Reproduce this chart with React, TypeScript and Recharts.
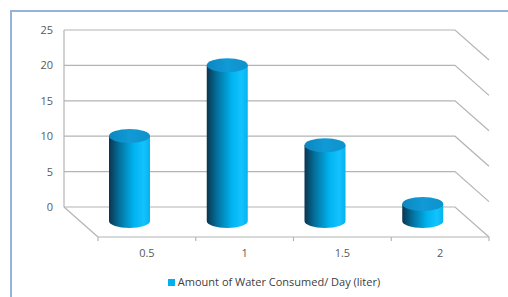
import { BarChart, Bar, XAxis, YAxis, CartesianGrid, Legend } from "recharts";

const CATEGORIES = ["0.5", "1", "1.5", "2"];
const WATER = [12, 22, 10.7, 2.4];
const Y_TICKS = [0, 5, 10, 15, 20, 25];
const SERIES_NAME = "Amount of Water Consumed/ Day (liter)";

const data = CATEGORIES.map((cat, i) => ({ cat, water: WATER[i] }));

// fake 3D: floor depth offset and bar mid-depth offset
const DEPTH_X = 34;
const DEPTH_Y = 30;
const BAR_DX = 17;
const BAR_DY = 14;
const GRID = "#b4b4b4";
const LABEL = "#595959";
const FONT = '"Open Sans", sans-serif';

function Cylinder(props: any) {
  const { x, y, width, height } = props;
  if (width == null || height == null) return null;
  const left = x + BAR_DX;
  const top = y + BAR_DY;
  const bottom = y + height + BAR_DY;
  const rx = width / 2;
  const ry = 7;
  return (
    <g>
      <path
        d={`M${left},${top} L${left},${bottom} A${rx},${ry} 0 0 0 ${left + width},${bottom} L${left + width},${top} Z`}
        fill="url(#cyl-body)"
      />
      <ellipse cx={left + rx} cy={top} rx={rx} ry={ry} fill="url(#cyl-top)" />
    </g>
  );
}

function gridLine(p: any) {
  const { x1, y1, x2, y2 } = p;
  return (
    <path
      key={p.key}
      d={`M${x1},${y1} L${x2},${y2} L${x2 + DEPTH_X},${y2 + DEPTH_Y}`}
      fill="none"
      stroke={GRID}
      strokeWidth={1.2}
    />
  );
}

function FloorTick(p: any) {
  const { x, y, payload, index, visibleTicksCount } = p;
  const half = payload?.offset ?? 48.9;
  const bx = x - half;
  const fy = y + DEPTH_Y;
  const last = index === (visibleTicksCount ?? CATEGORIES.length) - 1;
  return (
    <g>
      {index === 0 && (
        <line x1={bx} y1={y} x2={bx + DEPTH_X} y2={fy} stroke={GRID} strokeWidth={1.2} />
      )}
      <line x1={bx + DEPTH_X} y1={fy} x2={bx + DEPTH_X + 2 * half} y2={fy} stroke={GRID} strokeWidth={1.2} />
      <line x1={bx + DEPTH_X} y1={fy} x2={bx + DEPTH_X} y2={fy + 4} stroke={GRID} strokeWidth={1.2} />
      {last && (
        <line
          x1={bx + DEPTH_X + 2 * half}
          y1={fy}
          x2={bx + DEPTH_X + 2 * half}
          y2={fy + 4}
          stroke={GRID}
          strokeWidth={1.2}
        />
      )}
      <text x={x + DEPTH_X} y={fy + 20} textAnchor="middle" fill={LABEL} fontSize={11} fontFamily={FONT}>
        {payload.value}
      </text>
    </g>
  );
}

function LegendContent() {
  return (
    <div
      style={{
        height: 16,
        lineHeight: "16px",
        textAlign: "center",
        fontSize: 11,
        color: "#404040",
        fontFamily: FONT,
      }}
    >
      <span
        style={{
          display: "inline-block",
          width: 7,
          height: 7,
          background: "#00b0f0",
          marginRight: 3,
          verticalAlign: "middle",
        }}
      />
      <span style={{ verticalAlign: "middle" }}>{SERIES_NAME}</span>
    </div>
  );
}

export default function App() {
  return (
    <div
      style={{
        position: "fixed",
        left: 0,
        top: 0,
        width: 508,
        height: 297,
        overflow: "hidden",
        background: "#fff",
        fontFamily: FONT,
      }}
    >
      <div
        style={{
          position: "absolute",
          left: 10,
          top: 10,
          width: 600,
          height: 400,
          border: "2px solid #95b3d7",
        }}
      />
      <div style={{ position: "absolute", left: 0, top: 0 }}>
        <BarChart
          width={508}
          height={297}
          data={data}
          margin={{ top: 30, right: 53, left: 24, bottom: 8 }}
        >
          <defs>
            <linearGradient id="cyl-body" x1="0" y1="0" x2="1" y2="0">
              <stop offset="0%" stopColor="#0a3550" />
              <stop offset="25%" stopColor="#04709c" />
              <stop offset="60%" stopColor="#00b2ee" />
              <stop offset="85%" stopColor="#12c3ff" />
              <stop offset="100%" stopColor="#06b2ec" />
            </linearGradient>
            <linearGradient id="cyl-top" x1="0" y1="0" x2="1" y2="0">
              <stop offset="0%" stopColor="#0c86c0" />
              <stop offset="50%" stopColor="#109ad6" />
              <stop offset="100%" stopColor="#0e92cc" />
            </linearGradient>
          </defs>
          <CartesianGrid vertical={false} horizontal={gridLine} />
          <XAxis
            dataKey="cat"
            axisLine={false}
            tickLine={false}
            tickSize={0}
            tickMargin={0}
            height={66}
            tick={FloorTick}
            interval={0}
          />
          <YAxis
            domain={[0, 25]}
            ticks={Y_TICKS}
            width={40}
            tickLine={false}
            tickSize={0}
            tickMargin={11}
            axisLine={{ stroke: GRID, strokeWidth: 1.2 }}
            tick={{ fill: LABEL, fontSize: 11, fontFamily: FONT }}
          />
          <Legend
            verticalAlign="bottom"
            content={LegendContent}
            wrapperStyle={{ left: 11, width: 526 }}
          />
          <Bar
            dataKey="water"
            name={SERIES_NAME}
            barSize={41}
            shape={Cylinder}
            isAnimationActive={false}
          />
        </BarChart>
      </div>
    </div>
  );
}
